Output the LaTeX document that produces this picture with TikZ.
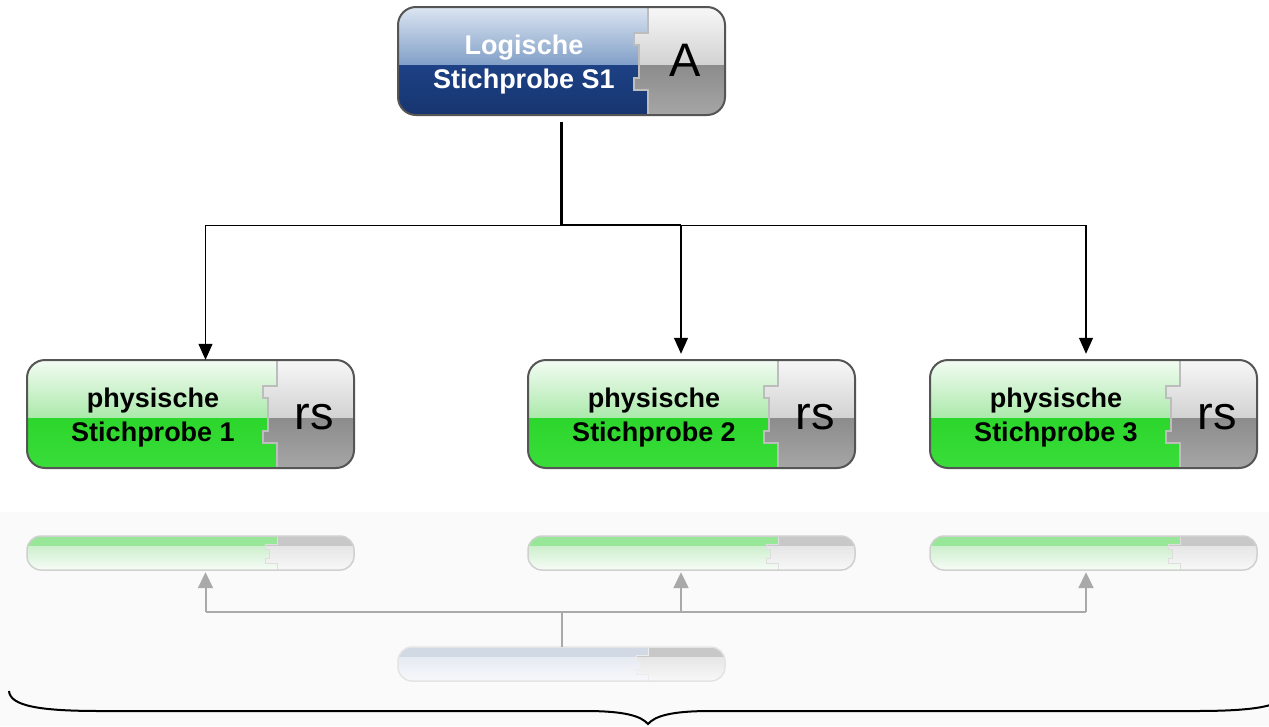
\documentclass[tikz,border=0pt]{standalone}
\usepackage{fontspec}
\newfontfamily\tilefont{Liberation Sans}
\usetikzlibrary{arrows.meta}

% tile colour schemes: A/B upper half, C/D lower half, T text
\definecolor{tbA}{HTML}{DCE5F1}
\definecolor{tbB}{HTML}{819FC8}
\definecolor{tbC}{HTML}{1D4185}
\definecolor{tbD}{HTML}{17356F}
\definecolor{tbT}{HTML}{FFFFFF}
\definecolor{tgA}{HTML}{F3FCF3}
\definecolor{tgB}{HTML}{ABE9AB}
\definecolor{tgC}{HTML}{2CD62C}
\definecolor{tgD}{HTML}{3ADD3A}
\definecolor{tgT}{HTML}{000000}
% grey puzzle piece
\definecolor{pzA}{HTML}{F7F7F7}
\definecolor{pzB}{HTML}{D2D2D2}
\definecolor{pzC}{HTML}{8C8C8C}
\definecolor{pzD}{HTML}{A6A6A6}
\definecolor{pzEdge}{HTML}{BDBDBD}
\definecolor{tileEdge}{HTML}{555555}
% mirrored tiles: R band, S/U fade
\definecolor{rgR}{HTML}{98E698}
\definecolor{rgS}{HTML}{CDEFCD}
\definecolor{rgU}{HTML}{F7FCF7}
\definecolor{rbR}{HTML}{D1D9E5}
\definecolor{rbS}{HTML}{E6EBF2}
\definecolor{rbU}{HTML}{F7F8FB}
\definecolor{rpR}{HTML}{C8C8C8}
\definecolor{rpS}{HTML}{E6E6E6}
\definecolor{rpU}{HTML}{F8F8F8}
\definecolor{mirEdgeG}{HTML}{D0D0D0}
\definecolor{mirEdgeB}{HTML}{E4E4E4}
\definecolor{panelgray}{HTML}{FAFAFA}
\definecolor{connGray}{HTML}{A9A9A9}

\tikzset{
  tileborder/.style={draw=tileEdge, line width=2pt, rounded corners=18pt},
  pzline/.style={draw=pzEdge, line width=1.8pt},
  tiletext/.style={font=\tilefont\bfseries\fontsize{27}{34}\selectfont, align=center, inner sep=0pt},
  tagtext/.style={font=\tilefont\fontsize{47}{47}\selectfont, inner sep=0pt, anchor=base},
  tilebox/.style={rectangle, inner sep=0pt, minimum width=327pt, minimum height=108pt},
  mirrorbox/.style={rectangle, inner sep=0pt, minimum width=327pt, minimum height=34pt},
  mirrorborder/.style={draw=#1, line width=1.5pt, rounded corners=14pt},
  blkline/.style={draw=black, line width=1.3pt},
  blkarrow/.style={draw=black, line width=1.2pt, -{Triangle[width=14pt,length=16pt]}},
  grayline/.style={draw=connGray, line width=2pt},
  grayarrow/.style={draw=connGray, line width=2pt, -{Triangle[width=15pt,length=16pt]}},
  bracestyle/.style={draw=black, line width=2pt},
}

% #1 name, #2 left, #3 top, #4 scheme, #5 text, #6 tag
\newcommand\puzzletile[6]{%
  \begin{scope}[shift={(#2,#3)}]
    \begin{scope}
      \clip[rounded corners=18pt] (0,0) rectangle (327,108);
      \shade[top color=#4A,bottom color=#4B] (0,0) rectangle (327,58);
      \shade[top color=#4C,bottom color=#4D] (0,58) rectangle (327,108);
      \begin{scope}
        \clip (250,-2) -- (250,26) -- (236,26) -- (236,38) -- (241,38) -- (241,71)
          -- (236,71) -- (236,83) -- (250,83) -- (250,110) -- (330,110) -- (330,-2) -- cycle;
        \shade[top color=pzA,bottom color=pzB] (0,0) rectangle (327,58);
        \shade[top color=pzC,bottom color=pzD] (0,58) rectangle (327,108);
      \end{scope}
      \draw[pzline] (250,0) -- (250,26) -- (236,26) -- (236,38) -- (241,38) -- (241,71)
        -- (236,71) -- (236,83) -- (250,83) -- (250,108);
    \end{scope}
    \draw[tileborder] (0,0) rectangle (327,108);
    \node[tiletext, text=#4T] at (126,58) {#5};
    \node[tagtext] at (287,69) {#6};
    \node[tilebox] (#1) at (163.5,54) {};
  \end{scope}}

% #1 name, #2 left, #3 top, #4 scheme, #5 border colour
\newcommand\mirrortile[5]{%
  \begin{scope}[shift={(#2,#3)}]
    \begin{scope}
      \clip[rounded corners=14pt] (0,0) rectangle (327,34);
      \fill[#4R] (0,0) rectangle (327,10);
      \shade[top color=#4S,bottom color=#4U] (0,10) rectangle (327,34);
      \begin{scope}
        \clip (250,-2) -- (250,8) -- (238,8) -- (238,13) -- (242,13) -- (242,22)
          -- (238,22) -- (238,27) -- (250,27) -- (250,36) -- (330,36) -- (330,-2) -- cycle;
        \fill[rpR] (0,0) rectangle (327,10);
        \shade[top color=rpS,bottom color=rpU] (0,10) rectangle (327,34);
      \end{scope}
      \draw[draw=#5!70!white, line width=1pt] (250,0) -- (250,8) -- (238,8) -- (238,13) -- (242,13)
        -- (242,22) -- (238,22) -- (238,27) -- (250,27) -- (250,34);
    \end{scope}
    \draw[mirrorborder=#5] (0,0) rectangle (327,34);
    \node[mirrorbox] (#1) at (163.5,17) {};
  \end{scope}}

\begin{document}
\begin{tikzpicture}[x=1pt,y=-1pt]
\useasboundingbox (0,0) rectangle (1269,726);
\fill[white] (0,0) rectangle (1269,726);
\fill[panelgray] (0,512) rectangle (1269,726);

% logical sample and physical samples
\puzzletile{S1}{398}{7}{tb}{Logische\\Stichprobe S1}{A}
\puzzletile{P1}{27}{360}{tg}{physische\\Stichprobe 1}{rs}
\puzzletile{P2}{528}{360}{tg}{physische\\Stichprobe 2}{rs}
\puzzletile{P3}{930}{360}{tg}{physische\\Stichprobe 3}{rs}

% faded mirror images
\mirrortile{R1}{27}{536}{rg}{mirEdgeG}
\mirrortile{R2}{528}{536}{rg}{mirEdgeG}
\mirrortile{R3}{930}{536}{rg}{mirEdgeG}
\mirrortile{R0}{398}{647}{rb}{mirEdgeB}

% black distribution connectors
\path (S1.south) ++(0,110) coordinate (jn);
\coordinate (a1) at ([xshift=15pt]P1.north);
\coordinate (a2) at ([xshift=-10.5pt]P2.north);
\coordinate (a3) at ([xshift=-7.5pt]P3.north);
\draw[blkline, line width=2.4pt, shorten <=7pt] (S1.south) -- (jn);
\draw[blkline] (a1 |- jn) -- (a3 |- jn);
\draw[blkline, line width=2.4pt] (jn) -- (a2 |- jn);
\draw[blkarrow] (a1 |- jn) -- (a1);
\draw[blkarrow, shorten >=6pt] (a2 |- jn) -- (a2);
\draw[blkarrow, shorten >=6pt] (a3 |- jn) -- (a3);

% grey mirrored connectors
\path (R0.north) ++(0,-35) coordinate (gj);
\coordinate (b1) at ([xshift=15pt]R1.south);
\coordinate (b2) at ([xshift=-10.5pt]R2.south);
\coordinate (b3) at ([xshift=-7.5pt]R3.south);
\draw[grayline] (R0.north) -- (gj);
\draw[grayline] (b1 |- gj) -- (b3 |- gj);
\draw[grayarrow, shorten >=2pt] (b1 |- gj) -- (b1);
\draw[grayarrow, shorten >=2pt] (b2 |- gj) -- (b2);
\draw[grayarrow, shorten >=2pt] (b3 |- gj) -- (b3);

% curly brace
\draw[bracestyle] (9,691) .. controls (10,706) and (40,711) .. (100,711) -- (585,711)
  .. controls (625,711) and (641,716) .. (648,724)
  .. controls (655,716) and (671,711) .. (711,711) -- (1196,711)
  .. controls (1256,711) and (1286,706) .. (1287,691);
\end{tikzpicture}
\end{document}
